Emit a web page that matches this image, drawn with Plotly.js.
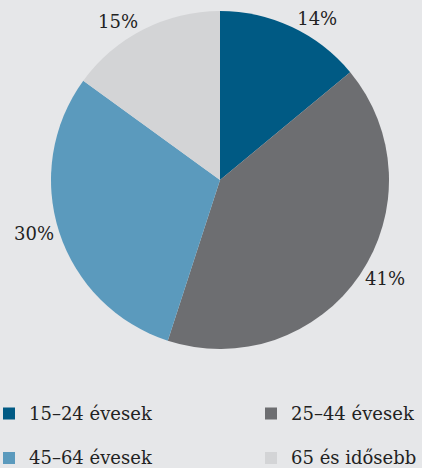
<!DOCTYPE html>
<html>
<head>
<meta charset="utf-8">
<script src="https://cdn.plot.ly/plotly-3.0.1.min.js"></script>
<style>
html,body{margin:0;padding:0;background:#e6e7e9;overflow:hidden;width:422px;height:468px;}
#chart{width:541px;height:468px;margin-left:-11px;}
</style>
</head>
<body>
<div id="chart"></div>
<script>
const categories = ["15–24 évesek", "25–44 évesek", "45–64 évesek", "65 és idősebb"];
const values = [14, 41, 30, 15];
const colors = ["#005a84", "#6d6e71", "#5b9abd", "#d3d4d6"];

const W = 541, H = 468;
// legend labels: real text at 18px, followed by an empty line to give the wider row spacing
const legendLabels = categories.map(c => '<span style="font-size:18px">' + c + '</span><br> ');

const trace = {
  type: "pie",
  labels: legendLabels,
  values: values,
  sort: false,
  direction: "clockwise",
  rotation: 0,
  marker: {colors: colors, line: {width: 0}},
  textinfo: "percent",
  texttemplate: "%{percent:.0%}",
  textposition: "outside",
  outsidetextfont: {color: "#222222", size: 18, family: "DejaVu Serif"},
  hoverinfo: "none",
  domain: {x: [62 / W, 400 / W], y: [119 / H, 457 / H]},
  automargin: false
};

const layout = {
  width: W, height: H,
  margin: {l: 0, r: 0, t: 0, b: 0, autoexpand: false},
  paper_bgcolor: "#e6e7e9",
  plot_bgcolor: "#e6e7e9",
  font: {family: "DejaVu Serif", size: 18, color: "#222222"},
  showlegend: true,
  legend: {
    orientation: "h",
    x: 0, xanchor: "left",
    y: 71.5 / H, yanchor: "top",
    entrywidth: 217, entrywidthmode: "pixels",
    itemwidth: 30,
    valign: "top",
    font: {size: 16, family: "DejaVu Serif", color: "#222222"},
    bgcolor: "rgba(0,0,0,0)",
    borderwidth: 0,
    traceorder: "normal"
  }
};

Plotly.newPlot("chart", [trace], layout, {displayModeBar: false, staticPlot: true});
</script>
</body>
</html>
